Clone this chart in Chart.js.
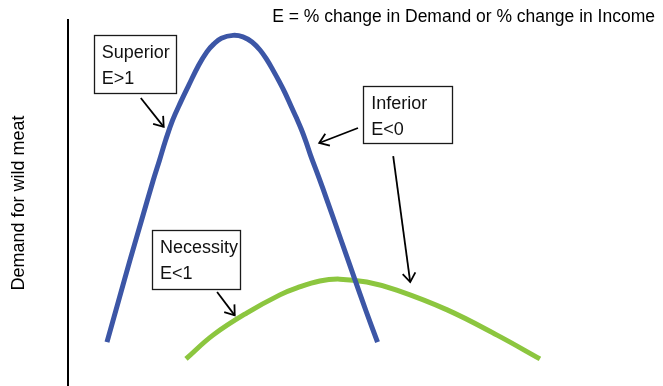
<!DOCTYPE html>
<html>
<head>
<meta charset="utf-8">
<script src="https://cdn.jsdelivr.net/npm/chart.js@4/dist/chart.umd.min.js"></script>
<style>
  html, body { margin: 0; padding: 0; background: #ffffff; }
  #wrap { position: relative; width: 663px; height: 386px; }
  canvas { display: block; }
</style>
</head>
<body>
<div id="wrap"><canvas id="c" width="663" height="386"></canvas></div>
<script>
// ---- data (income on x, demand for wild meat on y; arbitrary 0-100 units) ----
const headingText = 'E = % change in Demand or % change in Income';
const yAxisTitle = 'Demand for wild meat';

const superiorInferiorIncome = [6.64, 8.60, 10.56, 12.52, 14.48, 15.59, 16.64, 17.84, 19.23, 20.58, 22.28, 23.66, 24.82, 26.13, 28.11,
  29.81, 31.35, 32.71, 33.90, 34.92, 35.95, 36.97, 37.99, 38.93, 39.78, 40.55, 41.31, 42.73, 44.12, 46.51, 48.89, 50.77, 52.73];
const superiorInferiorDemand = [12.0, 23.2, 34.4, 45.2, 56.0, 61.7, 67.2, 72.7, 77.7, 82.2, 87.7, 91.3, 93.4, 95.0, 95.8,
  95.4, 94.0, 91.8, 89.1, 86.3, 83.3, 80.1, 76.5, 73.2, 70.0, 66.7, 63.1, 57.0, 50.8, 39.9, 29.0, 20.5, 12.0];

const necessityIncome = [20.1, 24.7, 30.5, 36.1, 39.0, 42.9, 46.3, 50.9, 56.0, 64.6, 73.1, 80.4];
const necessityDemand = [7.4, 13.9, 20.0, 24.9, 26.8, 28.7, 29.2, 28.4, 26.2, 20.8, 13.9, 7.4];

// annotation labels and their anchors (data units)
const labelLines = [['Superior', 'E>1'], ['Inferior', 'E<0'], ['Necessity', 'E<1']];
const labelBoxes = [
  { x1: 4.4, x2: 18.4, y1: 95.9, y2: 80.0 },
  { x1: 50.3, x2: 65.4, y1: 82.0, y2: 66.4 },
  { x1: 14.3, x2: 29.3, y1: 42.6, y2: 26.5 }
];
const labelArrows = [
  [ { from: [12.4, 78.7], to: [16.3, 70.8] } ],
  [ { from: [49.4, 70.5], to: [42.8, 66.4] }, { from: [55.4, 62.8], to: [58.3, 28.4] } ],
  [ { from: [25.4, 25.7], to: [28.4, 19.3] } ]
];

// ---- styles ----
const FONT = "'Liberation Sans', Arial, sans-serif";
const BLUE = '#3c56a6';
const GREEN = '#8cc63f';

function toPoints(xs, ys) { return xs.map((x, i) => ({ x: x, y: ys[i] })); }

const annotationPlugin = {
  id: 'boxesAndArrows',
  afterDatasetsDraw(chart) {
    const ctx = chart.ctx;
    const xs = chart.scales.x, ys = chart.scales.y;
    ctx.save();
    labelBoxes.forEach((b, i) => {
      const left = xs.getPixelForValue(b.x1), right = xs.getPixelForValue(b.x2);
      const top = ys.getPixelForValue(b.y1), bottom = ys.getPixelForValue(b.y2);
      ctx.fillStyle = '#ffffff';
      ctx.fillRect(left, top, right - left, bottom - top);
      ctx.strokeStyle = '#1a1a1a';
      ctx.lineWidth = 1.3;
      ctx.strokeRect(Math.round(left) + 0.5, Math.round(top) + 0.5, Math.round(right - left), Math.round(bottom - top));
      ctx.fillStyle = '#111111';
      ctx.font = '18px ' + FONT;
      ctx.textAlign = 'left';
      ctx.textBaseline = 'alphabetic';
      labelLines[i].forEach((t, k) => {
        ctx.fillText(t, left + 8, top + 23 + k * 26);
      });
      labelArrows[i].forEach(a => {
        const x0 = xs.getPixelForValue(a.from[0]), y0 = ys.getPixelForValue(a.from[1]);
        const x1 = xs.getPixelForValue(a.to[0]), y1 = ys.getPixelForValue(a.to[1]);
        const ang = Math.atan2(y1 - y0, x1 - x0);
        const head = 11, spread = 0.62;
        ctx.strokeStyle = '#000000';
        ctx.lineWidth = 1.8;
        ctx.lineCap = 'butt';
        ctx.beginPath();
        ctx.moveTo(x0, y0);
        ctx.lineTo(x1, y1);
        ctx.stroke();
        ctx.beginPath();
        ctx.moveTo(x1 - head * Math.cos(ang - spread), y1 - head * Math.sin(ang - spread));
        ctx.lineTo(x1, y1);
        ctx.lineTo(x1 - head * Math.cos(ang + spread), y1 - head * Math.sin(ang + spread));
        ctx.stroke();
      });
    });
    ctx.restore();
  }
};

new Chart(document.getElementById('c'), {
  type: 'scatter',
  data: {
    datasets: [
      {
        label: 'Superior / Inferior',
        data: toPoints(superiorInferiorIncome, superiorInferiorDemand),
        showLine: true,
        borderColor: BLUE,
        backgroundColor: BLUE,
        borderWidth: 5,
        pointRadius: 0,
        tension: 0.4,
        borderCapStyle: 'butt'
      },
      {
        label: 'Necessity',
        data: toPoints(necessityIncome, necessityDemand),
        showLine: true,
        borderColor: GREEN,
        backgroundColor: GREEN,
        borderWidth: 5,
        pointRadius: 0,
        tension: 0.4,
        borderCapStyle: 'butt'
      }
    ]
  },
  options: {
    responsive: false,
    animation: false,
    devicePixelRatio: 1,
    layout: { padding: { left: 0, right: 8, top: 0, bottom: 0 } },
    plugins: {
      legend: { display: false },
      tooltip: { enabled: false },
      title: {
        display: true,
        text: headingText,
        align: 'end',
        color: '#000000',
        font: { family: FONT, size: 17.5, weight: 'normal', lineHeight: 1.2 },
        padding: { top: 7, bottom: -8 }
      }
    },
    scales: {
      x: {
        type: 'linear',
        display: false,
        min: 0,
        max: 100
      },
      y: {
        type: 'linear',
        position: 'left',
        min: 0,
        max: 100,
        grid: { display: false, drawTicks: false },
        ticks: { display: false },
        border: { display: true, color: '#000000', width: 2 },
        title: {
          display: true,
          text: yAxisTitle,
          color: '#000000',
          font: { family: FONT, size: 18, weight: 'normal', lineHeight: 1.2 },
          padding: { top: 8.2, bottom: 38.2 }
        }
      }
    }
  },
  plugins: [annotationPlugin]
});
</script>
</body>
</html>
